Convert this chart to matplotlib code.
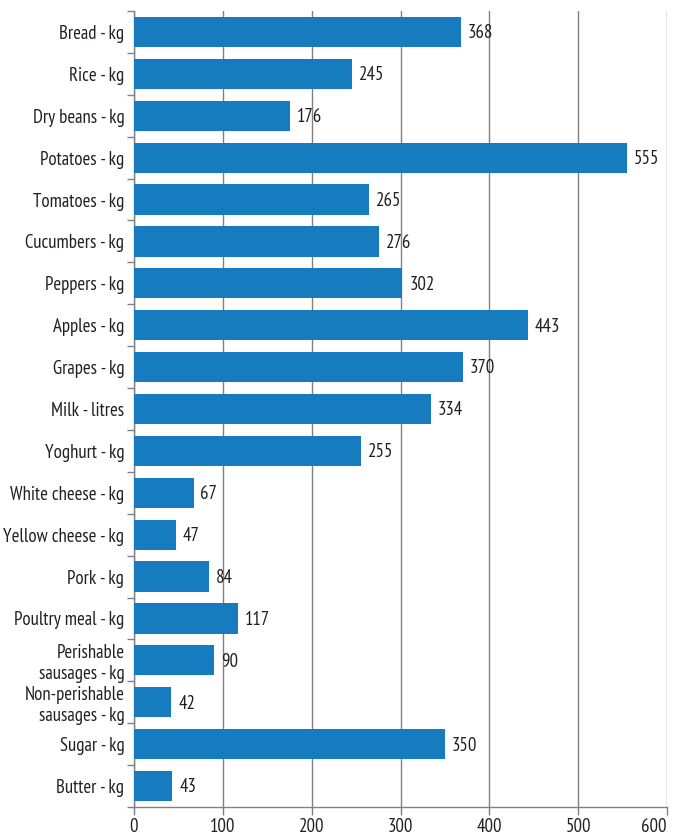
import matplotlib
matplotlib.use("Agg")
import matplotlib.pyplot as plt
from matplotlib import font_manager
import numpy as np

categories = [
    "Bread - kg", "Rice - kg", "Dry beans - kg", "Potatoes - kg", "Tomatoes - kg",
    "Cucumbers - kg", "Peppers - kg", "Apples - kg", "Grapes - kg", "Milk - litres",
    "Yoghurt - kg", "White cheese - kg", "Yellow cheese - kg", "Pork - kg",
    "Poultry meal - kg", "Perishable\nsausages - kg", "Non-perishable\nsausages - kg",
    "Sugar - kg", "Butter - kg",
]
values = [368, 245, 176, 555, 265, 276, 302, 443, 370, 334, 255, 67, 47, 84, 117, 90, 42, 350, 43]
x_ticks = [0, 100, 200, 300, 400, 500, 600]

# pick a condensed sans-serif face
available = {f.name for f in font_manager.fontManager.ttflist}
preferred = ["PT Sans Narrow", "Fira Sans Condensed", "Roboto Condensed",
             "Open Sans Condensed", "Archivo Narrow", "Asap Condensed",
             "Encode Sans Condensed", "Barlow Semi Condensed", "Liberation Sans Narrow"]
family = next((f for f in preferred if f in available), "DejaVu Sans")
plt.rcParams["font.family"] = [family, "DejaVu Sans"]

bar_color = "#177bc0"
grid_color = "#808080"
text_color = "#231f20"
fs = 13.5

fig = plt.figure(figsize=(6.77, 8.35), dpi=100)
ax = fig.add_axes([134 / 677, 1 - 807 / 835, (667 - 134) / 677, (807 - 11) / 835])

y = np.arange(len(categories))
ax.barh(y, values, height=0.72, color=bar_color, zorder=3)
for yi, v in zip(y, values):
    ax.annotate(str(v), xy=(v, yi), xytext=(5, -1), textcoords="offset points",
                va="center", ha="left", fontsize=fs, color=text_color, zorder=4)

ax.set_xlim(0, 600)
ax.set_ylim(len(categories) - 0.5, -0.5)

ax.set_xticks(x_ticks)
ax.set_xticklabels([str(t) for t in x_ticks], fontsize=fs, color=text_color)
ax.get_xticklabels()[-1].set_horizontalalignment("right")
ax.get_xticklabels()[-1].set_x(600)
ax.set_yticks(y)
ax.set_yticklabels(categories, fontsize=fs, color=text_color, linespacing=1.2)
ax.set_yticks(np.arange(-0.5, len(categories)), minor=True)
ax.tick_params(axis="y", which="major", length=0, pad=7)
ax.tick_params(axis="y", which="minor", length=5, width=1, color=grid_color, direction="out")
ax.tick_params(axis="x", which="major", length=6, width=1, color=grid_color,
               direction="out", pad=2)

ax.grid(axis="x", color=grid_color, linewidth=1, zorder=0)
ax.set_axisbelow(True)

for side in ["top", "right"]:
    ax.spines[side].set_visible(False)
for side in ["left", "bottom"]:
    ax.spines[side].set_color(grid_color)
    ax.spines[side].set_linewidth(1)

fig.savefig("out.png", dpi=100)
